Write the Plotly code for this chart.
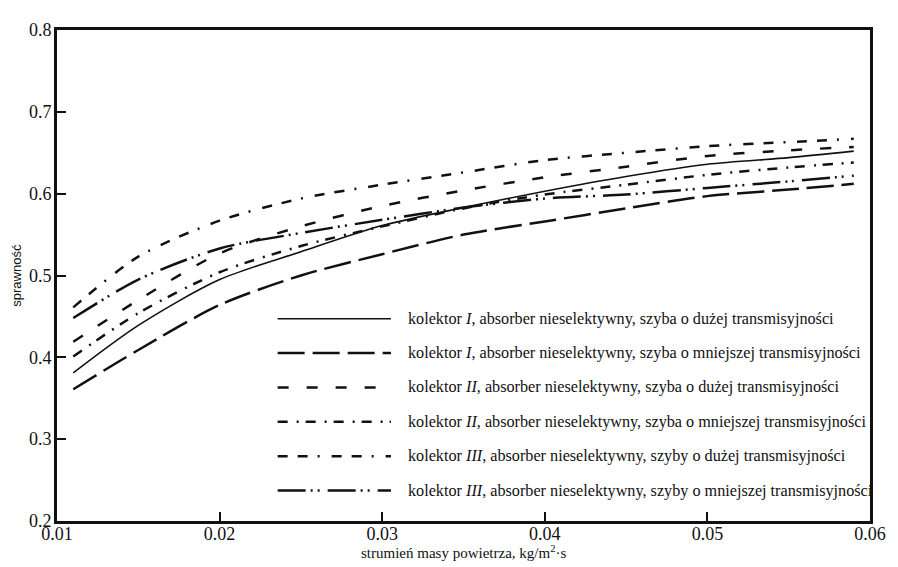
import plotly.graph_objects as go

# ---- data ----
x_flow = [0.011, 0.015, 0.02, 0.025, 0.03, 0.035, 0.04, 0.045, 0.05, 0.055, 0.059]

eff_I_duza = [0.381, 0.439, 0.495, 0.529, 0.561, 0.583, 0.603, 0.621, 0.636, 0.644, 0.652]
eff_I_mniejsza = [0.361, 0.409, 0.464, 0.500, 0.526, 0.550, 0.566, 0.582, 0.597, 0.605, 0.612]
eff_II_duza = [0.419, 0.470, 0.527, 0.560, 0.585, 0.604, 0.620, 0.633, 0.646, 0.653, 0.657]
eff_II_mniejsza = [0.401, 0.454, 0.504, 0.536, 0.560, 0.582, 0.599, 0.611, 0.623, 0.632, 0.638]
eff_III_duza = [0.461, 0.523, 0.567, 0.594, 0.611, 0.626, 0.641, 0.650, 0.658, 0.663, 0.667]
eff_III_mniejsza = [0.448, 0.495, 0.533, 0.552, 0.568, 0.583, 0.594, 0.599, 0.607, 0.615, 0.622]

labels = [
    "kolektor <i>I</i>, absorber nieselektywny, szyba o dużej transmisyjności",
    "kolektor <i>I</i>, absorber nieselektywny, szyba o mniejszej transmisyjności",
    "kolektor <i>II</i>, absorber nieselektywny, szyba o dużej transmisyjności",
    "kolektor <i>II</i>, absorber nieselektywny, szyba o mniejszej transmisyjności",
    "kolektor <i>III</i>, absorber nieselektywny, szyby o dużej transmisyjności",
    "kolektor <i>III</i>, absorber nieselektywny, szyby o mniejszej transmisyjności",
]
series = [eff_I_duza, eff_I_mniejsza, eff_II_duza, eff_II_mniejsza, eff_III_duza, eff_III_mniejsza]

x_ticks = [0.01, 0.02, 0.03, 0.04, 0.05, 0.06]
y_ticks = [0.2, 0.3, 0.4, 0.5, 0.6, 0.7, 0.8]

# ---- styles ----
dashes = [
    "solid",
    "27px,8px",
    "11px,18px",
    "10px,9px,2px,7px",
    "10px,10px,10px,10px,2px,12px",
    "28px,5px,2px,5px,2px,8px",
]
widths = [1.6, 2.5, 2.5, 2.5, 2.5, 2.5]
ink = "#111111"
serif = "Liberation Serif, Times New Roman, serif"

fig = go.Figure()
for ys, lab, d, w in zip(series, labels, dashes, widths):
    fig.add_trace(go.Scatter(
        x=x_flow, y=ys, mode="lines", name=lab, showlegend=False,
        line=dict(color=ink, width=w, dash=d, shape="spline", smoothing=0.8),
    ))

# page body has an 8px margin: the figure is offset by (8, 8) in the window
OFF = 8
W, H = 898 - OFF, 567 - OFF
L, R, T, B = 57, 875, 21, 521   # plot area in window pixels


def px_x(p):
    return (p - L) / (R - L)


def px_y(p):
    return (B - p) / (B - T)


row_y = [315, 350, 385, 420, 455, 490]
shapes = []
annotations = []
for i, (lab, d, w) in enumerate(zip(labels, dashes, widths)):
    yy = px_y(row_y[i])
    shapes.append(dict(type="line", xref="paper", yref="paper",
                       x0=px_x(279), x1=px_x(393), y0=yy, y1=yy,
                       line=dict(color=ink, width=w, dash=d)))
    annotations.append(dict(xref="paper", yref="paper", x=px_x(408), y=yy,
                            text=lab, showarrow=False, xanchor="left", yanchor="middle",
                            font=dict(family=serif, size=16.2, color=ink)))

# axis titles
annotations.append(dict(xref="paper", yref="paper", x=0.5, y=px_y(553),
                        text="strumień masy powietrza, kg/m<sup>2</sup>·s",
                        showarrow=False, xanchor="center", yanchor="middle",
                        font=dict(family=serif, size=15, color=ink)))
annotations.append(dict(xref="paper", yref="paper", x=px_x(16), y=0.5,
                        text="sprawność", textangle=-90,
                        showarrow=False, xanchor="center", yanchor="middle",
                        font=dict(family="Liberation Sans, Arial, sans-serif", size=13, color=ink)))

fig.update_layout(
    width=W, height=H,
    margin=dict(l=L - OFF, r=898 - R, t=T - OFF, b=567 - B),
    paper_bgcolor="white", plot_bgcolor="white",
    shapes=shapes, annotations=annotations,
    showlegend=False,
)
fig.update_xaxes(
    range=[0.01, 0.06], tickvals=x_ticks, ticktext=[f"{v:.2f}" for v in x_ticks],
    ticks="inside", ticklen=9, tickwidth=2, tickcolor=ink,
    showline=True, linecolor=ink, linewidth=3, mirror=True,
    showgrid=False, zeroline=False, ticklabelstandoff=-6,
    tickfont=dict(family=serif, size=18, color=ink),
)
fig.update_yaxes(
    range=[0.2, 0.8], tickvals=y_ticks, ticktext=[f"{v:.1f}" for v in y_ticks],
    ticks="inside", ticklen=9, tickwidth=2, tickcolor=ink,
    showline=True, linecolor=ink, linewidth=3, mirror=True,
    showgrid=False, zeroline=False, ticklabelstandoff=-1,
    tickfont=dict(family=serif, size=18, color=ink),
)

fig.write_html("out.html")
